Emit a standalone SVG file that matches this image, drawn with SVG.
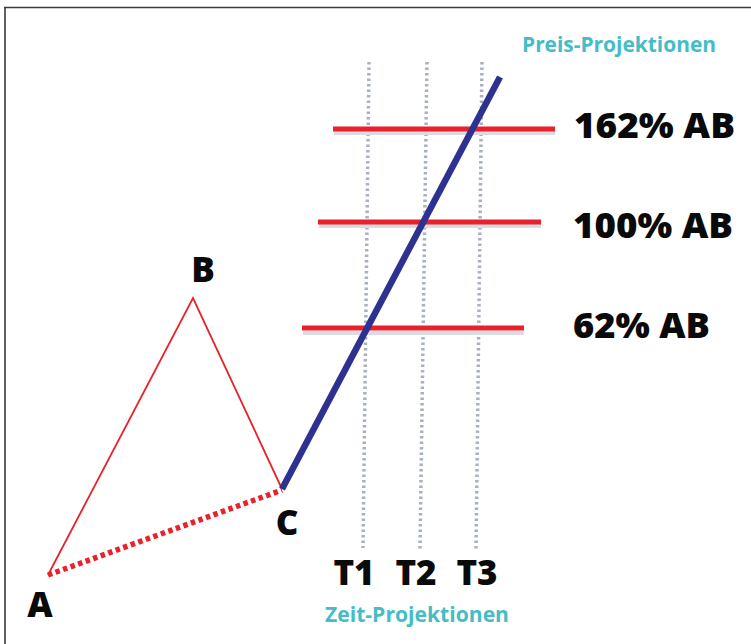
<svg xmlns="http://www.w3.org/2000/svg" width="751" height="644" viewBox="0 0 751 644">
<style>
.lbl{font-family:"Open Sans","Liberation Sans",sans-serif;font-weight:800;fill:#0a0a0a;font-size:35px}
.teal{font-family:"Open Sans","Liberation Sans",sans-serif;font-weight:bold;fill:#45bcc6;font-size:21px}
.grid{stroke:#a7b1c2;stroke-width:3.5;stroke-dasharray:2.5 3;fill:none}
.lvl{stroke:#e8212b;stroke-width:5;fill:none}
.shadow{stroke:#d9dce2;stroke-width:4;fill:none}
</style>
<rect x="0" y="0" width="751" height="644" fill="#fff"/>
<path d="M4 7.5 H751 M5 7 V644" stroke="#3a3a3a" stroke-width="1.6" fill="none"/>
<g id="connectors">
<g id="time-grid">
<line class="grid" x1="369" y1="62" x2="363" y2="548"/>
<line class="grid" x1="427" y1="62" x2="420" y2="550"/>
<line class="grid" x1="482" y1="62" x2="476" y2="550"/>
</g>
<g id="levels">
<line class="shadow" x1="334" y1="133" x2="555" y2="133"/>
<line class="shadow" x1="319" y1="226" x2="541" y2="226"/>
<line class="shadow" x1="303" y1="333" x2="524" y2="333"/>
<line class="lvl" x1="333" y1="129" x2="555" y2="129"/>
<line class="lvl" x1="318" y1="222" x2="541" y2="222"/>
<line class="lvl" x1="302" y1="328" x2="524" y2="328"/>
</g>
<polyline points="48,575 193,298 282,489" fill="none" stroke="#e8212b" stroke-width="1.8"/>
<line x1="48" y1="575" x2="282" y2="490" stroke="#e8212b" stroke-width="5.5" stroke-dasharray="4.5 3.5"/>
<line x1="282" y1="489" x2="500" y2="77" stroke="#2d3190" stroke-width="6.5"/>
</g>
<g id="node-A"><text class="lbl" x="40" y="617" text-anchor="middle">A</text></g>
<g id="node-B"><text class="lbl" x="203" y="282" text-anchor="middle">B</text></g>
<g id="node-C"><text class="lbl" x="287" y="535" text-anchor="middle">C</text></g>
<g id="level-162"><text class="lbl" x="574" y="138" textLength="161" lengthAdjust="spacingAndGlyphs">162% AB</text></g>
<g id="level-100"><text class="lbl" x="573" y="238" textLength="160" lengthAdjust="spacingAndGlyphs">100% AB</text></g>
<g id="level-62"><text class="lbl" x="573" y="338" textLength="137" lengthAdjust="spacingAndGlyphs">62% AB</text></g>
<g id="time-T1"><text class="lbl" x="354" y="585" text-anchor="middle">T1</text></g>
<g id="time-T2"><text class="lbl" x="416" y="585" text-anchor="middle">T2</text></g>
<g id="time-T3"><text class="lbl" x="477" y="585" text-anchor="middle">T3</text></g>
<g id="title-price"><text class="teal" x="522" y="52" textLength="194" lengthAdjust="spacingAndGlyphs">Preis-Projektionen</text></g>
<g id="title-time"><text class="teal" x="325" y="622" textLength="184" lengthAdjust="spacingAndGlyphs">Zeit-Projektionen</text></g>
</svg>
